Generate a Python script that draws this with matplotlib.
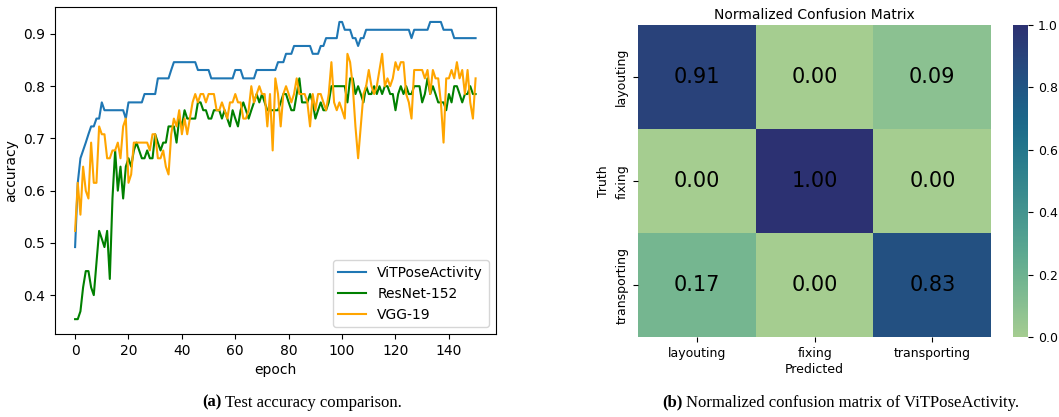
import matplotlib
matplotlib.use("Agg")
import matplotlib.pyplot as plt
import numpy as np
import seaborn as sns

# test accuracy per epoch
vit_acc = [
    0.492, 0.615, 0.662, 0.677, 0.692, 0.708, 0.723, 0.723, 0.738, 0.738,
    0.769, 0.754, 0.754, 0.754, 0.754, 0.754, 0.754, 0.754, 0.754, 0.738,
    0.769, 0.769, 0.769, 0.769, 0.769, 0.769, 0.785, 0.785, 0.785, 0.785,
    0.785, 0.815, 0.815, 0.815, 0.815, 0.815, 0.831, 0.846, 0.846, 0.846,
    0.846, 0.846, 0.846, 0.846, 0.846, 0.846, 0.831, 0.831, 0.831, 0.831,
    0.831, 0.815, 0.815, 0.815, 0.815, 0.815, 0.815, 0.815, 0.815, 0.815,
    0.831, 0.831, 0.831, 0.815, 0.815, 0.815, 0.815, 0.815, 0.831, 0.831,
    0.831, 0.831, 0.831, 0.831, 0.831, 0.831, 0.846, 0.846, 0.846, 0.862,
    0.862, 0.862, 0.877, 0.877, 0.877, 0.877, 0.877, 0.877, 0.877, 0.862,
    0.862, 0.862, 0.877, 0.877, 0.892, 0.892, 0.892, 0.892, 0.892, 0.923,
    0.923, 0.908, 0.908, 0.908, 0.892, 0.892, 0.877, 0.892, 0.892, 0.908,
    0.908, 0.908, 0.908, 0.908, 0.908, 0.908, 0.908, 0.908, 0.908, 0.908,
    0.908, 0.908, 0.908, 0.908, 0.908, 0.908, 0.892, 0.908, 0.908, 0.908,
    0.908, 0.908, 0.908, 0.923, 0.923, 0.923, 0.923, 0.923, 0.908, 0.908,
    0.908, 0.908, 0.892, 0.892, 0.892, 0.892, 0.892, 0.892, 0.892, 0.892,
    0.892,
]
resnet_acc = [
    0.354, 0.354, 0.369, 0.415, 0.446, 0.446, 0.415, 0.400, 0.462, 0.523,
    0.508, 0.492, 0.523, 0.431, 0.585, 0.677, 0.600, 0.646, 0.585, 0.646,
    0.662, 0.646, 0.677, 0.692, 0.677, 0.662, 0.662, 0.677, 0.662, 0.662,
    0.708, 0.692, 0.677, 0.692, 0.692, 0.723, 0.723, 0.723, 0.692, 0.738,
    0.723, 0.754, 0.738, 0.738, 0.738, 0.738, 0.769, 0.769, 0.754, 0.754,
    0.738, 0.738, 0.754, 0.754, 0.754, 0.738, 0.754, 0.738, 0.723, 0.754,
    0.738, 0.723, 0.754, 0.769, 0.754, 0.738, 0.754, 0.769, 0.785, 0.769,
    0.785, 0.769, 0.754, 0.754, 0.754, 0.754, 0.754, 0.769, 0.785, 0.785,
    0.769, 0.754, 0.754, 0.785, 0.815, 0.769, 0.769, 0.769, 0.785, 0.769,
    0.738, 0.754, 0.769, 0.754, 0.754, 0.769, 0.800, 0.800, 0.800, 0.800,
    0.800, 0.800, 0.769, 0.815, 0.815, 0.785, 0.800, 0.785, 0.769, 0.800,
    0.785, 0.785, 0.800, 0.785, 0.800, 0.785, 0.800, 0.800, 0.785, 0.785,
    0.754, 0.785, 0.800, 0.785, 0.800, 0.785, 0.785, 0.800, 0.800, 0.800,
    0.769, 0.785, 0.815, 0.785, 0.800, 0.785, 0.769, 0.769, 0.769, 0.754,
    0.785, 0.769, 0.800, 0.800, 0.785, 0.769, 0.785, 0.785, 0.800, 0.785,
    0.785,
]
vgg_acc = [
    0.523, 0.615, 0.554, 0.646, 0.600, 0.585, 0.692, 0.615, 0.615, 0.723,
    0.708, 0.708, 0.662, 0.662, 0.677, 0.677, 0.692, 0.662, 0.723, 0.738,
    0.615, 0.631, 0.692, 0.692, 0.692, 0.692, 0.692, 0.692, 0.677, 0.708,
    0.708, 0.662, 0.662, 0.677, 0.646, 0.631, 0.708, 0.738, 0.723, 0.754,
    0.708, 0.738, 0.708, 0.738, 0.769, 0.785, 0.769, 0.785, 0.785, 0.769,
    0.785, 0.785, 0.785, 0.754, 0.754, 0.769, 0.754, 0.738, 0.769, 0.769,
    0.785, 0.769, 0.769, 0.738, 0.738, 0.754, 0.800, 0.769, 0.785, 0.800,
    0.785, 0.785, 0.723, 0.785, 0.677, 0.815, 0.785, 0.723, 0.785, 0.800,
    0.785, 0.769, 0.785, 0.815, 0.785, 0.785, 0.785, 0.769, 0.723, 0.785,
    0.754, 0.785, 0.785, 0.769, 0.754, 0.785, 0.846, 0.769, 0.754, 0.769,
    0.754, 0.738, 0.862, 0.846, 0.800, 0.723, 0.662, 0.723, 0.785, 0.800,
    0.831, 0.800, 0.785, 0.800, 0.831, 0.862, 0.800, 0.815, 0.800, 0.815,
    0.846, 0.831, 0.846, 0.846, 0.785, 0.769, 0.738, 0.831, 0.831, 0.831,
    0.831, 0.815, 0.831, 0.785, 0.831, 0.815, 0.815, 0.769, 0.692, 0.815,
    0.815, 0.831, 0.815, 0.846, 0.815, 0.831, 0.785, 0.831, 0.769, 0.738,
    0.815,
]

classes = ["layouting", "fixing", "transporting"]
conf_matrix = [
    [0.91, 0.00, 0.09],
    [0.00, 1.00, 0.00],
    [0.17, 0.00, 0.83],
]

fig = plt.figure(figsize=(10.59, 4.17), dpi=100)

# (a) accuracy curves
ax1 = fig.add_axes([0.052, 0.199, 0.416, 0.784])
epochs = np.arange(len(vit_acc))
ax1.plot(epochs, vit_acc, color="#1f77b4", lw=1.5, label="ViTPoseActivity")
ax1.plot(epochs, resnet_acc, color="green", lw=1.5, label="ResNet-152")
ax1.plot(epochs, vgg_acc, color="orange", lw=1.5, label="VGG-19")
ax1.set_xlabel("epoch")
ax1.set_ylabel("accuracy")
ax1.set_xticks([0, 20, 40, 60, 80, 100, 120, 140])
ax1.set_yticks([0.4, 0.5, 0.6, 0.7, 0.8, 0.9])
ax1.legend(loc="lower right")

# (b) confusion matrix
ax2 = fig.add_axes([0.6025, 0.191, 0.3335, 0.749])
cax = fig.add_axes([0.9568, 0.191, 0.0142, 0.749])
sns.heatmap(np.array(conf_matrix), annot=True, fmt=".2f", cmap="crest",
            vmin=0, vmax=1, xticklabels=classes, yticklabels=classes,
            ax=ax2, cbar_ax=cax, annot_kws={"size": 15, "color": "black"})
ax2.set_yticklabels(classes, rotation=90, va="center", fontsize=9)
ax2.set_xticklabels(classes, rotation=0, fontsize=9)
ax2.set_xlabel("Predicted", fontsize=9, labelpad=2)
ax2.set_ylabel("Truth", fontsize=9)
ax2.set_title("Normalized Confusion Matrix", fontsize=10, pad=4)
cax.tick_params(labelsize=9)

# captions
cap = dict(family="Liberation Serif", fontsize=12, va="center")
fig.text(0.2095, 0.034, "(a)", weight="bold", ha="right", **cap)
fig.text(0.2125, 0.034, "Test accuracy comparison.", ha="left", **cap)
fig.text(0.645, 0.034, "(b)", weight="bold", ha="right", **cap)
fig.text(0.648, 0.034, "Normalized confusion matrix of ViTPoseActivity.",
         ha="left", **cap)

fig.savefig("out.png", dpi=100)
